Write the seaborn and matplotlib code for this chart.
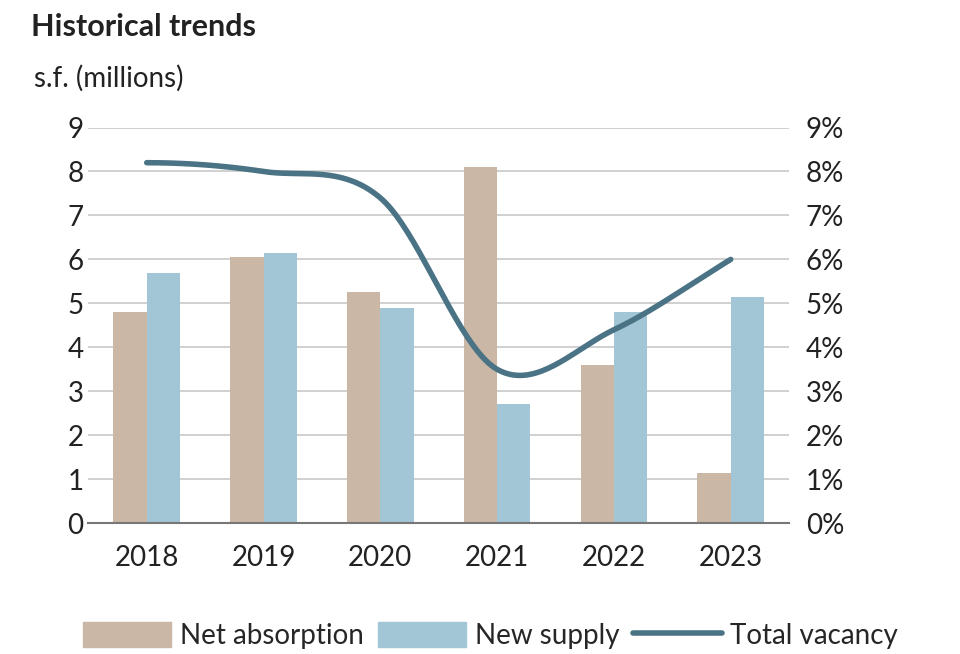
import numpy as np
import pandas as pd
import matplotlib
matplotlib.use("Agg")
import matplotlib.pyplot as plt
import seaborn as sns

years = ["2018", "2019", "2020", "2021", "2022", "2023"]
net_absorption = [4.8, 6.05, 5.25, 8.1, 3.6, 1.15]
new_supply = [5.7, 6.15, 4.9, 2.7, 4.8, 5.15]
total_vacancy = [8.2, 8.0, 7.4, 3.5, 4.4, 6.0]

sns.set_style("white")
plt.rcParams['font.family'] = ['Lato', 'DejaVu Sans']

df = pd.DataFrame({"year": years * 2,
                   "value": net_absorption + new_supply,
                   "series": ["Net absorption"] * 6 + ["New supply"] * 6})

fig = plt.figure(figsize=(9.6, 6.54), dpi=100)
ax = fig.add_axes([0.092, 0.2, 0.73, 0.605])
sns.barplot(data=df, x="year", y="value", hue="series", ax=ax,
            palette=["#cab7a6", "#a2c6d5"], width=0.57, saturation=1, legend=False,
            linewidth=0)
ax.set_ylim(0, 9)
ax.set_xlim(-0.5, 5.5)
ax.set_yticks(range(10))
ax.yaxis.grid(True, color="#c8c8c8", lw=1.2)
ax.set_axisbelow(True)
for s in ["left", "right", "top"]:
    ax.spines[s].set_visible(False)
ax.spines["bottom"].set_color("#777777")
ax.spines["bottom"].set_linewidth(1.5)
ax.tick_params(axis="both", length=0, labelsize=20, colors="#222222")
ax.tick_params(axis="x", pad=16)
ax.set_xlabel(""); ax.set_ylabel("")

# smooth Catmull-Rom curve through the data points for rendering
x = np.arange(6, dtype=float)
y = np.array(total_vacancy)
m = np.zeros(6)
m[0] = y[1] - y[0]; m[-1] = y[-1] - y[-2]
for i in range(1, 5):
    m[i] = (y[i+1] - y[i-1]) / 2
m[0] = 0; 
xs, ys = [], []
for i in range(5):
    t = np.linspace(0, 1, 40)
    h00 = 2*t**3 - 3*t**2 + 1; h10 = t**3 - 2*t**2 + t
    h01 = -2*t**3 + 3*t**2; h11 = t**3 - t**2
    xs.append(x[i] + t); ys.append(h00*y[i] + h10*m[i] + h01*y[i+1] + h11*m[i+1])
ax2 = ax.twinx()
ax2.plot(np.concatenate(xs), np.concatenate(ys), color="#4a7385", lw=4, solid_capstyle="round")
ax2.set_ylim(0, 9)
ax2.set_yticks(range(10))
ax2.set_yticklabels([f"{i}%" for i in range(10)])
ax2.tick_params(axis="y", length=0, labelsize=20, colors="#222222", pad=12)
for s in ["left", "right", "top", "bottom"]:
    ax2.spines[s].set_visible(False)

fig.text(0.032, 0.945, "Historical trends", fontsize=22, fontweight="bold", color="#222222")
fig.text(0.035, 0.868, "s.f. (millions)", fontsize=20, color="#222222")

from matplotlib.patches import Patch
from matplotlib.lines import Line2D
handles = [Patch(color="#cab7a6"), Patch(color="#a2c6d5"), Line2D([0], [0], color="#4a7385", lw=4)]
fig.legend(handles, ["Net absorption", "New supply", "Total vacancy"], loc="lower left",
           bbox_to_anchor=(0.06, -0.03), ncol=3, frameon=False, fontsize=20,
           handlelength=3.2, handleheight=1.0, handletextpad=0.3, columnspacing=0.5)
fig.savefig("out.png", dpi=100)
